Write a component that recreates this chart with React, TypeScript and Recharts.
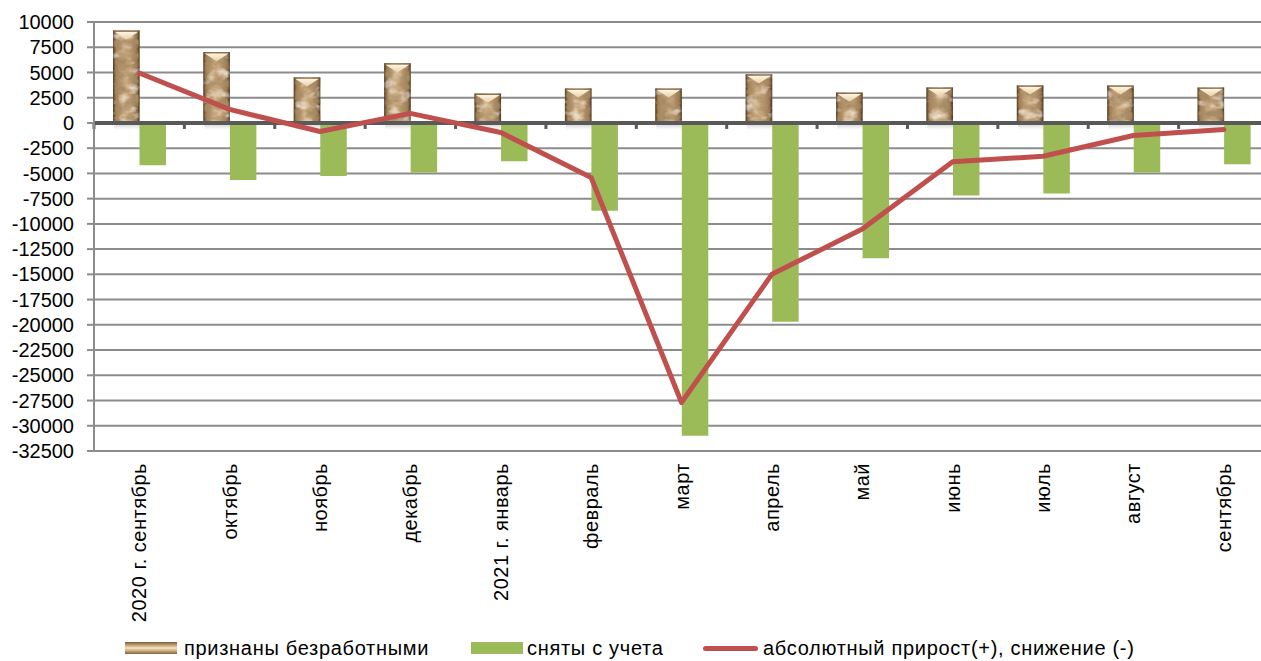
import React from 'react';
import {
  ComposedChart,
  Bar,
  Line,
  XAxis,
  YAxis,
  CartesianGrid,
  ReferenceLine,
  Legend,
} from 'recharts';

const months = [
  '2020 г. сентябрь',
  'октябрь',
  'ноябрь',
  'декабрь',
  '2021 г. январь',
  'февраль',
  'март',
  'апрель',
  'май',
  'июнь',
  'июль',
  'август',
  'сентябрь',
];

const registered = [9150, 7000, 4500, 5900, 2900, 3400, 3400, 4800, 3000, 3500, 3700, 3700, 3500];
const removed = [-4200, -5650, -5250, -4900, -3800, -8700, -31000, -19700, -13400, -7200, -7000, -4900, -4100];
const netChange = [4950, 1350, -850, 950, -950, -5400, -27700, -15000, -10500, -3850, -3300, -1250, -650];

const yTicks = [
  10000, 7500, 5000, 2500, 0, -2500, -5000, -7500, -10000, -12500, -15000, -17500, -20000,
  -22500, -25000, -27500, -30000, -32500,
];

const seriesNames = {
  registered: 'признаны безработными',
  removed: 'сняты с учета',
  net: 'абсолютный прирост(+), снижение (-)',
};

const data = months.map((m, i) => ({
  m,
  registered: registered[i],
  removed: removed[i],
  net: netChange[i],
}));

const FONT = '"Liberation Sans", Arial, sans-serif';
const CHART_W = 1269;
const CHART_H = 661;
const Y_W = 94;

const TanBar = (props: any) => {
  const { x, y, width, height } = props;
  if (!height || height <= 0) return null;
  return (
    <g>
      <rect x={x + 1} y={y + height} width={width + 4} height={7} fill="url(#barShadow)" />
      <rect x={x} y={y} width={width} height={height} fill="url(#tanGrad)" filter="url(#tex)" />
      <rect x={x} y={y} width={width} height={height} fill="url(#tanSide)" />
      <polygon
        points={`${x + 1},${y + 1} ${x + width - 1},${y + 1} ${x + width / 2},${y + 9}`}
        fill="url(#bevelGrad)"
      />
      <line x1={x} y1={y + 0.5} x2={x + width} y2={y + 0.5} stroke="#6e5030" strokeWidth={1} />
    </g>
  );
};

const XTick = (props: any) => {
  const { x, y, payload } = props;
  const px = x + 7;
  const py = y;
  return (
    <text
      x={px}
      y={py}
      transform={`rotate(-90 ${px} ${py})`}
      textAnchor="end"
      fontFamily={FONT}
      fontSize={20}
      letterSpacing={0.5}
      fill="#000"
    >
      {payload.value}
    </text>
  );
};

const ZeroAxis = (props: any) => {
  const { x1, x2, y1 } = props;
  const n = months.length;
  const step = (x2 - x1) / n;
  const marks = [];
  for (let i = 0; i <= n; i++) {
    marks.push(
      <rect key={i} x={x1 + i * step - 1.5} y={y1 + 1} width={3} height={5} fill="#595959" />
    );
  }
  return (
    <g>
      <line x1={x1} x2={x2} y1={y1} y2={y1} stroke="#595959" strokeWidth={4} />
      {marks}
    </g>
  );
};

const LegendContent = () => (
  <div style={{ position: 'relative', width: 1261, height: 25, fontFamily: FONT, fontSize: 20, letterSpacing: 0.7, color: '#000' }}>
    <div
      style={{
        position: 'absolute',
        left: 125,
        top: 6,
        width: 52,
        height: 12,
        background: 'linear-gradient(180deg, #7d5c38 0%, #c9ab80 30%, #f3e4c6 50%, #c9a67a 75%, #80603c 100%)',
      }}
    />
    <div style={{ position: 'absolute', left: 184, top: 0, lineHeight: '24px', whiteSpace: 'nowrap' }}>
      {seriesNames.registered}
    </div>
    <div style={{ position: 'absolute', left: 471, top: 6, width: 52, height: 12, background: '#9bbb59' }} />
    <div style={{ position: 'absolute', left: 527, top: 0, lineHeight: '24px', whiteSpace: 'nowrap' }}>
      {seriesNames.removed}
    </div>
    <div
      style={{
        position: 'absolute',
        left: 703,
        top: 9.5,
        width: 55,
        height: 5,
        borderRadius: 3,
        background: '#c0504d',
      }}
    />
    <div style={{ position: 'absolute', left: 763, top: 0, lineHeight: '24px', whiteSpace: 'nowrap' }}>
      {seriesNames.net}
    </div>
  </div>
);

export default function App() {
  return (
    <div
      style={{
        position: 'fixed',
        left: 0,
        top: 0,
        width: 1261,
        height: 661,
        overflow: 'hidden',
        background: '#fff',
      }}
    >
      <ComposedChart
        width={CHART_W}
        height={CHART_H}
        data={data}
        margin={{ top: 22, right: 0, left: 0, bottom: 0 }}
        barGap={0}
      >
        <defs>
          <linearGradient id="tanGrad" x1="0" y1="0" x2="1" y2="0">
            <stop offset="0%" stopColor="#5e4022" />
            <stop offset="12%" stopColor="#a27f56" />
            <stop offset="40%" stopColor="#cfb188" />
            <stop offset="65%" stopColor="#c2a178" />
            <stop offset="88%" stopColor="#9a7750" />
            <stop offset="100%" stopColor="#52381c" />
          </linearGradient>
          <linearGradient id="tanSide" x1="0" y1="0" x2="1" y2="0">
            <stop offset="0%" stopColor="#3e2810" stopOpacity={0.55} />
            <stop offset="8%" stopColor="#3e2810" stopOpacity={0} />
            <stop offset="92%" stopColor="#3e2810" stopOpacity={0} />
            <stop offset="100%" stopColor="#3e2810" stopOpacity={0.55} />
          </linearGradient>
          <linearGradient id="bevelGrad" x1="0" y1="0" x2="0" y2="1">
            <stop offset="0%" stopColor="#fff6e2" />
            <stop offset="100%" stopColor="#e6d0a8" />
          </linearGradient>
          <linearGradient id="barShadow" x1="0" y1="0" x2="0" y2="1">
            <stop offset="0%" stopColor="#8a8a8a" stopOpacity={0.5} />
            <stop offset="100%" stopColor="#bbbbbb" stopOpacity={0} />
          </linearGradient>
          <filter id="tex" x="0" y="0" width="1" height="1">
            <feTurbulence type="fractalNoise" baseFrequency="0.07 0.1" numOctaves={3} seed={11} result="noise" />
            <feColorMatrix
              in="noise"
              type="matrix"
              values="0 0 0 0 0.38  0 0 0 0 0.26  0 0 0 0 0.13  -3.2 0 0 0 1.8"
              result="dark"
            />
            <feColorMatrix
              in="noise"
              type="matrix"
              values="0 0 0 0 0.93  0 0 0 0 0.85  0 0 0 0 0.72  2.2 0 0 0 -1.2"
              result="light"
            />
            <feComposite in="dark" in2="SourceGraphic" operator="in" result="darkClip" />
            <feComposite in="light" in2="SourceGraphic" operator="in" result="lightClip" />
            <feMerge>
              <feMergeNode in="SourceGraphic" />
              <feMergeNode in="darkClip" />
              <feMergeNode in="lightClip" />
            </feMerge>
          </filter>
        </defs>
        <CartesianGrid vertical={false} stroke="#8c8c8c" strokeWidth={2} />
        <XAxis
          dataKey="m"
          interval={0}
          height={210}
          axisLine={false}
          tickLine={false}
          tickSize={0}
          tickMargin={12}
          tick={<XTick />}
        />
        <YAxis
          width={Y_W}
          domain={[-32500, 10000]}
          ticks={yTicks}
          interval={0}
          allowDataOverflow
          axisLine={{ stroke: '#8c8c8c', strokeWidth: 2 }}
          tickLine={{ stroke: '#8c8c8c', strokeWidth: 2 }}
          tickSize={7}
          tickMargin={13}
          tick={{ fill: '#000', fontSize: 20, fontFamily: FONT }}
        />
        <Bar
          dataKey="registered"
          name={seriesNames.registered}
          barSize={26.5}
          shape={<TanBar />}
          isAnimationActive={false}
        />
        <Bar
          dataKey="removed"
          name={seriesNames.removed}
          barSize={26.5}
          fill="#9bbb59"
          isAnimationActive={false}
        />
        <ReferenceLine y={0} shape={<ZeroAxis />} />
        <Line
          dataKey="net"
          name={seriesNames.net}
          stroke="#c0504d"
          strokeWidth={5}
          strokeLinecap="round"
          strokeLinejoin="round"
          dot={false}
          activeDot={false}
          isAnimationActive={false}
        />
        <Legend
          verticalAlign="middle"
          layout="horizontal"
          content={<LegendContent />}
          wrapperStyle={{ top: 636, left: 0, width: 1261, height: 25 }}
        />
      </ComposedChart>
    </div>
  );
}
